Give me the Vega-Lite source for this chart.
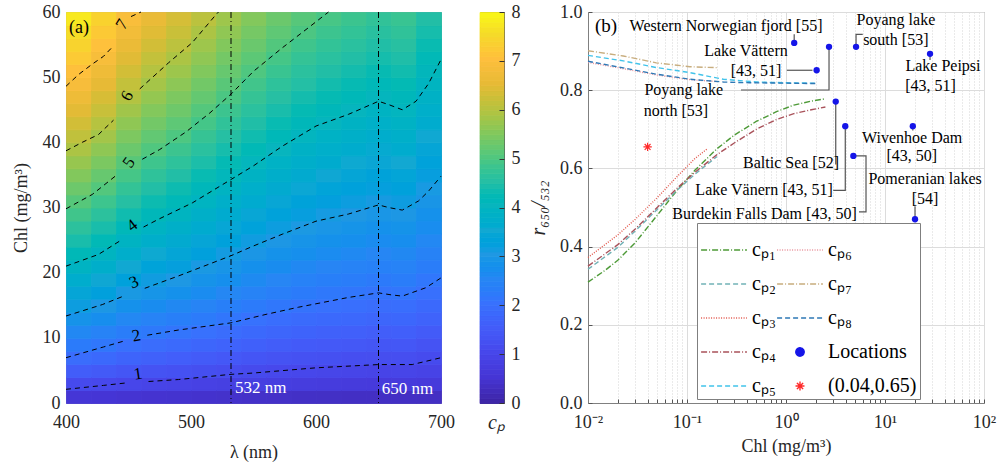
{
"$schema":"https://vega.github.io/schema/vega-lite/v6.json",
"padding":{"left":11,"top":2,"right":0,"bottom":0},
"background":"white",
"spacing":7,
"config":{"font":"Liberation Serif","view":{"stroke":null},"axis":{"labelFont":"Liberation Serif","titleFont":"Liberation Serif","labelFontSize":18,"titleFontSize":18,"titleFontWeight":"normal","labelColor":"#262626","titleColor":"#262626"}},
"resolve":{"scale":{"color":"independent","stroke":"independent","strokeDash":"independent","x":"independent","y":"independent"},"legend":{"color":"independent","strokeDash":"independent"}},
"datasets":{
"heat":[
{"l":400,"c":0,"v":0.52},{"l":400,"c":2,"v":1.08},{"l":400,"c":4,"v":1.52},{"l":400,"c":6,"v":1.89},{"l":400,"c":8,"v":2.23},{"l":400,"c":10,"v":2.55},{"l":400,"c":12,"v":2.85},{"l":400,"c":14,"v":3.13},{"l":400,"c":16,"v":3.4},{"l":400,"c":18,"v":3.66},{"l":400,"c":20,"v":3.91},{"l":400,"c":22,"v":4.15},{"l":400,"c":24,"v":4.39},{"l":400,"c":26,"v":4.61},{"l":400,"c":28,"v":4.84},{"l":400,"c":30,"v":5.05},{"l":400,"c":32,"v":5.27},{"l":400,"c":34,"v":5.48},{"l":400,"c":36,"v":5.68},{"l":400,"c":38,"v":5.88},{"l":400,"c":40,"v":6.08},{"l":400,"c":42,"v":6.27},{"l":400,"c":44,"v":6.46},{"l":400,"c":46,"v":6.65},{"l":400,"c":48,"v":6.84},{"l":400,"c":50,"v":7.02},{"l":400,"c":52,"v":7.2},{"l":400,"c":54,"v":7.38},{"l":400,"c":56,"v":7.55},{"l":400,"c":58,"v":7.73},
{"l":420,"c":0,"v":0.5},{"l":420,"c":2,"v":1.03},{"l":420,"c":4,"v":1.44},{"l":420,"c":6,"v":1.8},{"l":420,"c":8,"v":2.13},{"l":420,"c":10,"v":2.43},{"l":420,"c":12,"v":2.71},{"l":420,"c":14,"v":2.98},{"l":420,"c":16,"v":3.24},{"l":420,"c":18,"v":3.48},{"l":420,"c":20,"v":3.72},{"l":420,"c":22,"v":3.95},{"l":420,"c":24,"v":4.18},{"l":420,"c":26,"v":4.39},{"l":420,"c":28,"v":4.61},{"l":420,"c":30,"v":4.81},{"l":420,"c":32,"v":5.02},{"l":420,"c":34,"v":5.21},{"l":420,"c":36,"v":5.41},{"l":420,"c":38,"v":5.6},{"l":420,"c":40,"v":5.79},{"l":420,"c":42,"v":5.97},{"l":420,"c":44,"v":6.16},{"l":420,"c":46,"v":6.33},{"l":420,"c":48,"v":6.51},{"l":420,"c":50,"v":6.68},{"l":420,"c":52,"v":6.86},{"l":420,"c":54,"v":7.03},{"l":420,"c":56,"v":7.19},{"l":420,"c":58,"v":7.36},
{"l":440,"c":0,"v":0.47},{"l":440,"c":2,"v":0.97},{"l":440,"c":4,"v":1.35},{"l":440,"c":6,"v":1.69},{"l":440,"c":8,"v":2.0},{"l":440,"c":10,"v":2.28},{"l":440,"c":12,"v":2.54},{"l":440,"c":14,"v":2.8},{"l":440,"c":16,"v":3.04},{"l":440,"c":18,"v":3.27},{"l":440,"c":20,"v":3.49},{"l":440,"c":22,"v":3.71},{"l":440,"c":24,"v":3.92},{"l":440,"c":26,"v":4.12},{"l":440,"c":28,"v":4.32},{"l":440,"c":30,"v":4.51},{"l":440,"c":32,"v":4.7},{"l":440,"c":34,"v":4.89},{"l":440,"c":36,"v":5.07},{"l":440,"c":38,"v":5.25},{"l":440,"c":40,"v":5.43},{"l":440,"c":42,"v":5.6},{"l":440,"c":44,"v":5.77},{"l":440,"c":46,"v":5.94},{"l":440,"c":48,"v":6.11},{"l":440,"c":50,"v":6.27},{"l":440,"c":52,"v":6.43},{"l":440,"c":54,"v":6.59},{"l":440,"c":56,"v":6.75},{"l":440,"c":58,"v":6.9},
{"l":460,"c":0,"v":0.45},{"l":460,"c":2,"v":0.92},{"l":460,"c":4,"v":1.29},{"l":460,"c":6,"v":1.61},{"l":460,"c":8,"v":1.9},{"l":460,"c":10,"v":2.17},{"l":460,"c":12,"v":2.42},{"l":460,"c":14,"v":2.66},{"l":460,"c":16,"v":2.89},{"l":460,"c":18,"v":3.11},{"l":460,"c":20,"v":3.32},{"l":460,"c":22,"v":3.52},{"l":460,"c":24,"v":3.72},{"l":460,"c":26,"v":3.92},{"l":460,"c":28,"v":4.11},{"l":460,"c":30,"v":4.29},{"l":460,"c":32,"v":4.47},{"l":460,"c":34,"v":4.65},{"l":460,"c":36,"v":4.82},{"l":460,"c":38,"v":4.99},{"l":460,"c":40,"v":5.16},{"l":460,"c":42,"v":5.33},{"l":460,"c":44,"v":5.49},{"l":460,"c":46,"v":5.65},{"l":460,"c":48,"v":5.81},{"l":460,"c":50,"v":5.96},{"l":460,"c":52,"v":6.11},{"l":460,"c":54,"v":6.27},{"l":460,"c":56,"v":6.42},{"l":460,"c":58,"v":6.56},
{"l":480,"c":0,"v":0.43},{"l":480,"c":2,"v":0.88},{"l":480,"c":4,"v":1.24},{"l":480,"c":6,"v":1.55},{"l":480,"c":8,"v":1.82},{"l":480,"c":10,"v":2.08},{"l":480,"c":12,"v":2.33},{"l":480,"c":14,"v":2.56},{"l":480,"c":16,"v":2.78},{"l":480,"c":18,"v":2.99},{"l":480,"c":20,"v":3.19},{"l":480,"c":22,"v":3.39},{"l":480,"c":24,"v":3.58},{"l":480,"c":26,"v":3.77},{"l":480,"c":28,"v":3.95},{"l":480,"c":30,"v":4.13},{"l":480,"c":32,"v":4.3},{"l":480,"c":34,"v":4.47},{"l":480,"c":36,"v":4.64},{"l":480,"c":38,"v":4.8},{"l":480,"c":40,"v":4.96},{"l":480,"c":42,"v":5.12},{"l":480,"c":44,"v":5.28},{"l":480,"c":46,"v":5.43},{"l":480,"c":48,"v":5.58},{"l":480,"c":50,"v":5.73},{"l":480,"c":52,"v":5.88},{"l":480,"c":54,"v":6.03},{"l":480,"c":56,"v":6.17},{"l":480,"c":58,"v":6.31},
{"l":500,"c":0,"v":0.41},{"l":500,"c":2,"v":0.84},{"l":500,"c":4,"v":1.18},{"l":500,"c":6,"v":1.47},{"l":500,"c":8,"v":1.74},{"l":500,"c":10,"v":1.99},{"l":500,"c":12,"v":2.22},{"l":500,"c":14,"v":2.44},{"l":500,"c":16,"v":2.65},{"l":500,"c":18,"v":2.85},{"l":500,"c":20,"v":3.04},{"l":500,"c":22,"v":3.23},{"l":500,"c":24,"v":3.41},{"l":500,"c":26,"v":3.59},{"l":500,"c":28,"v":3.77},{"l":500,"c":30,"v":3.94},{"l":500,"c":32,"v":4.1},{"l":500,"c":34,"v":4.26},{"l":500,"c":36,"v":4.42},{"l":500,"c":38,"v":4.58},{"l":500,"c":40,"v":4.73},{"l":500,"c":42,"v":4.88},{"l":500,"c":44,"v":5.03},{"l":500,"c":46,"v":5.18},{"l":500,"c":48,"v":5.32},{"l":500,"c":50,"v":5.47},{"l":500,"c":52,"v":5.61},{"l":500,"c":54,"v":5.74},{"l":500,"c":56,"v":5.88},{"l":500,"c":58,"v":6.02},
{"l":520,"c":0,"v":0.39},{"l":520,"c":2,"v":0.8},{"l":520,"c":4,"v":1.13},{"l":520,"c":6,"v":1.41},{"l":520,"c":8,"v":1.66},{"l":520,"c":10,"v":1.89},{"l":520,"c":12,"v":2.11},{"l":520,"c":14,"v":2.32},{"l":520,"c":16,"v":2.52},{"l":520,"c":18,"v":2.72},{"l":520,"c":20,"v":2.9},{"l":520,"c":22,"v":3.08},{"l":520,"c":24,"v":3.26},{"l":520,"c":26,"v":3.42},{"l":520,"c":28,"v":3.59},{"l":520,"c":30,"v":3.75},{"l":520,"c":32,"v":3.91},{"l":520,"c":34,"v":4.07},{"l":520,"c":36,"v":4.22},{"l":520,"c":38,"v":4.37},{"l":520,"c":40,"v":4.51},{"l":520,"c":42,"v":4.66},{"l":520,"c":44,"v":4.8},{"l":520,"c":46,"v":4.94},{"l":520,"c":48,"v":5.08},{"l":520,"c":50,"v":5.21},{"l":520,"c":52,"v":5.34},{"l":520,"c":54,"v":5.48},{"l":520,"c":56,"v":5.61},{"l":520,"c":58,"v":5.74},
{"l":540,"c":0,"v":0.37},{"l":540,"c":2,"v":0.77},{"l":540,"c":4,"v":1.08},{"l":540,"c":6,"v":1.34},{"l":540,"c":8,"v":1.59},{"l":540,"c":10,"v":1.81},{"l":540,"c":12,"v":2.02},{"l":540,"c":14,"v":2.22},{"l":540,"c":16,"v":2.41},{"l":540,"c":18,"v":2.6},{"l":540,"c":20,"v":2.77},{"l":540,"c":22,"v":2.95},{"l":540,"c":24,"v":3.11},{"l":540,"c":26,"v":3.28},{"l":540,"c":28,"v":3.43},{"l":540,"c":30,"v":3.59},{"l":540,"c":32,"v":3.74},{"l":540,"c":34,"v":3.89},{"l":540,"c":36,"v":4.03},{"l":540,"c":38,"v":4.18},{"l":540,"c":40,"v":4.32},{"l":540,"c":42,"v":4.45},{"l":540,"c":44,"v":4.59},{"l":540,"c":46,"v":4.72},{"l":540,"c":48,"v":4.85},{"l":540,"c":50,"v":4.98},{"l":540,"c":52,"v":5.11},{"l":540,"c":54,"v":5.24},{"l":540,"c":56,"v":5.36},{"l":540,"c":58,"v":5.49},
{"l":560,"c":0,"v":0.36},{"l":560,"c":2,"v":0.74},{"l":560,"c":4,"v":1.03},{"l":560,"c":6,"v":1.29},{"l":560,"c":8,"v":1.52},{"l":560,"c":10,"v":1.73},{"l":560,"c":12,"v":1.93},{"l":560,"c":14,"v":2.13},{"l":560,"c":16,"v":2.31},{"l":560,"c":18,"v":2.49},{"l":560,"c":20,"v":2.66},{"l":560,"c":22,"v":2.82},{"l":560,"c":24,"v":2.98},{"l":560,"c":26,"v":3.13},{"l":560,"c":28,"v":3.29},{"l":560,"c":30,"v":3.43},{"l":560,"c":32,"v":3.58},{"l":560,"c":34,"v":3.72},{"l":560,"c":36,"v":3.86},{"l":560,"c":38,"v":4.0},{"l":560,"c":40,"v":4.13},{"l":560,"c":42,"v":4.26},{"l":560,"c":44,"v":4.39},{"l":560,"c":46,"v":4.52},{"l":560,"c":48,"v":4.64},{"l":560,"c":50,"v":4.77},{"l":560,"c":52,"v":4.89},{"l":560,"c":54,"v":5.01},{"l":560,"c":56,"v":5.13},{"l":560,"c":58,"v":5.25},
{"l":580,"c":0,"v":0.34},{"l":580,"c":2,"v":0.71},{"l":580,"c":4,"v":0.99},{"l":580,"c":6,"v":1.24},{"l":580,"c":8,"v":1.46},{"l":580,"c":10,"v":1.67},{"l":580,"c":12,"v":1.86},{"l":580,"c":14,"v":2.05},{"l":580,"c":16,"v":2.23},{"l":580,"c":18,"v":2.39},{"l":580,"c":20,"v":2.56},{"l":580,"c":22,"v":2.72},{"l":580,"c":24,"v":2.87},{"l":580,"c":26,"v":3.02},{"l":580,"c":28,"v":3.17},{"l":580,"c":30,"v":3.31},{"l":580,"c":32,"v":3.45},{"l":580,"c":34,"v":3.58},{"l":580,"c":36,"v":3.72},{"l":580,"c":38,"v":3.85},{"l":580,"c":40,"v":3.98},{"l":580,"c":42,"v":4.11},{"l":580,"c":44,"v":4.23},{"l":580,"c":46,"v":4.35},{"l":580,"c":48,"v":4.48},{"l":580,"c":50,"v":4.59},{"l":580,"c":52,"v":4.71},{"l":580,"c":54,"v":4.83},{"l":580,"c":56,"v":4.95},{"l":580,"c":58,"v":5.06},
{"l":600,"c":0,"v":0.33},{"l":600,"c":2,"v":0.69},{"l":600,"c":4,"v":0.96},{"l":600,"c":6,"v":1.2},{"l":600,"c":8,"v":1.42},{"l":600,"c":10,"v":1.62},{"l":600,"c":12,"v":1.81},{"l":600,"c":14,"v":1.99},{"l":600,"c":16,"v":2.16},{"l":600,"c":18,"v":2.33},{"l":600,"c":20,"v":2.48},{"l":600,"c":22,"v":2.64},{"l":600,"c":24,"v":2.79},{"l":600,"c":26,"v":2.93},{"l":600,"c":28,"v":3.07},{"l":600,"c":30,"v":3.21},{"l":600,"c":32,"v":3.35},{"l":600,"c":34,"v":3.48},{"l":600,"c":36,"v":3.61},{"l":600,"c":38,"v":3.74},{"l":600,"c":40,"v":3.86},{"l":600,"c":42,"v":3.99},{"l":600,"c":44,"v":4.11},{"l":600,"c":46,"v":4.23},{"l":600,"c":48,"v":4.34},{"l":600,"c":50,"v":4.46},{"l":600,"c":52,"v":4.58},{"l":600,"c":54,"v":4.69},{"l":600,"c":56,"v":4.8},{"l":600,"c":58,"v":4.91},
{"l":620,"c":0,"v":0.32},{"l":620,"c":2,"v":0.67},{"l":620,"c":4,"v":0.94},{"l":620,"c":6,"v":1.17},{"l":620,"c":8,"v":1.39},{"l":620,"c":10,"v":1.58},{"l":620,"c":12,"v":1.77},{"l":620,"c":14,"v":1.94},{"l":620,"c":16,"v":2.11},{"l":620,"c":18,"v":2.27},{"l":620,"c":20,"v":2.42},{"l":620,"c":22,"v":2.57},{"l":620,"c":24,"v":2.72},{"l":620,"c":26,"v":2.86},{"l":620,"c":28,"v":3.0},{"l":620,"c":30,"v":3.13},{"l":620,"c":32,"v":3.27},{"l":620,"c":34,"v":3.4},{"l":620,"c":36,"v":3.52},{"l":620,"c":38,"v":3.65},{"l":620,"c":40,"v":3.77},{"l":620,"c":42,"v":3.89},{"l":620,"c":44,"v":4.01},{"l":620,"c":46,"v":4.13},{"l":620,"c":48,"v":4.24},{"l":620,"c":50,"v":4.35},{"l":620,"c":52,"v":4.47},{"l":620,"c":54,"v":4.58},{"l":620,"c":56,"v":4.69},{"l":620,"c":58,"v":4.79},
{"l":640,"c":0,"v":0.32},{"l":640,"c":2,"v":0.65},{"l":640,"c":4,"v":0.92},{"l":640,"c":6,"v":1.15},{"l":640,"c":8,"v":1.35},{"l":640,"c":10,"v":1.54},{"l":640,"c":12,"v":1.72},{"l":640,"c":14,"v":1.89},{"l":640,"c":16,"v":2.06},{"l":640,"c":18,"v":2.21},{"l":640,"c":20,"v":2.36},{"l":640,"c":22,"v":2.51},{"l":640,"c":24,"v":2.65},{"l":640,"c":26,"v":2.79},{"l":640,"c":28,"v":2.93},{"l":640,"c":30,"v":3.06},{"l":640,"c":32,"v":3.19},{"l":640,"c":34,"v":3.31},{"l":640,"c":36,"v":3.44},{"l":640,"c":38,"v":3.56},{"l":640,"c":40,"v":3.68},{"l":640,"c":42,"v":3.79},{"l":640,"c":44,"v":3.91},{"l":640,"c":46,"v":4.02},{"l":640,"c":48,"v":4.14},{"l":640,"c":50,"v":4.25},{"l":640,"c":52,"v":4.36},{"l":640,"c":54,"v":4.46},{"l":640,"c":56,"v":4.57},{"l":640,"c":58,"v":4.68},
{"l":660,"c":0,"v":0.32},{"l":660,"c":2,"v":0.67},{"l":660,"c":4,"v":0.93},{"l":660,"c":6,"v":1.17},{"l":660,"c":8,"v":1.38},{"l":660,"c":10,"v":1.57},{"l":660,"c":12,"v":1.76},{"l":660,"c":14,"v":1.93},{"l":660,"c":16,"v":2.1},{"l":660,"c":18,"v":2.26},{"l":660,"c":20,"v":2.41},{"l":660,"c":22,"v":2.56},{"l":660,"c":24,"v":2.7},{"l":660,"c":26,"v":2.84},{"l":660,"c":28,"v":2.98},{"l":660,"c":30,"v":3.12},{"l":660,"c":32,"v":3.25},{"l":660,"c":34,"v":3.38},{"l":660,"c":36,"v":3.5},{"l":660,"c":38,"v":3.63},{"l":660,"c":40,"v":3.75},{"l":660,"c":42,"v":3.87},{"l":660,"c":44,"v":3.98},{"l":660,"c":46,"v":4.1},{"l":660,"c":48,"v":4.21},{"l":660,"c":50,"v":4.33},{"l":660,"c":52,"v":4.44},{"l":660,"c":54,"v":4.55},{"l":660,"c":56,"v":4.66},{"l":660,"c":58,"v":4.76},
{"l":680,"c":0,"v":0.3},{"l":680,"c":2,"v":0.63},{"l":680,"c":4,"v":0.88},{"l":680,"c":6,"v":1.09},{"l":680,"c":8,"v":1.29},{"l":680,"c":10,"v":1.48},{"l":680,"c":12,"v":1.65},{"l":680,"c":14,"v":1.81},{"l":680,"c":16,"v":1.97},{"l":680,"c":18,"v":2.12},{"l":680,"c":20,"v":2.26},{"l":680,"c":22,"v":2.4},{"l":680,"c":24,"v":2.54},{"l":680,"c":26,"v":2.67},{"l":680,"c":28,"v":2.8},{"l":680,"c":30,"v":2.92},{"l":680,"c":32,"v":3.05},{"l":680,"c":34,"v":3.17},{"l":680,"c":36,"v":3.28},{"l":680,"c":38,"v":3.4},{"l":680,"c":40,"v":3.51},{"l":680,"c":42,"v":3.63},{"l":680,"c":44,"v":3.74},{"l":680,"c":46,"v":3.85},{"l":680,"c":48,"v":3.95},{"l":680,"c":50,"v":4.06},{"l":680,"c":52,"v":4.16},{"l":680,"c":54,"v":4.27},{"l":680,"c":56,"v":4.37},{"l":680,"c":58,"v":4.47}
],
"cbar":[{"b":0},{"b":0.1},{"b":0.2},{"b":0.3},{"b":0.4},{"b":0.5},{"b":0.6},{"b":0.7},{"b":0.8},{"b":0.9},{"b":1},{"b":1.1},{"b":1.2},{"b":1.3},{"b":1.4},{"b":1.5},{"b":1.6},{"b":1.7},{"b":1.8},{"b":1.9},{"b":2},{"b":2.1},{"b":2.2},{"b":2.3},{"b":2.4},{"b":2.5},{"b":2.6},{"b":2.7},{"b":2.8},{"b":2.9},{"b":3},{"b":3.1},{"b":3.2},{"b":3.3},{"b":3.4},{"b":3.5},{"b":3.6},{"b":3.7},{"b":3.8},{"b":3.9},{"b":4},{"b":4.1},{"b":4.2},{"b":4.3},{"b":4.4},{"b":4.5},{"b":4.6},{"b":4.7},{"b":4.8},{"b":4.9},{"b":5},{"b":5.1},{"b":5.2},{"b":5.3},{"b":5.4},{"b":5.5},{"b":5.6},{"b":5.7},{"b":5.8},{"b":5.9},{"b":6},{"b":6.1},{"b":6.2},{"b":6.3},{"b":6.4},{"b":6.5},{"b":6.6},{"b":6.7},{"b":6.8},{"b":6.9},{"b":7},{"b":7.1},{"b":7.2},{"b":7.3},{"b":7.4},{"b":7.5},{"b":7.6},{"b":7.7},{"b":7.8},{"b":7.9}],
"contours":[
{"g":"7a","l":400,"c":48.6},{"g":"7a","l":410,"c":50.4},{"g":"7a","l":421,"c":52.0},{"g":"7a","l":430,"c":53.2},{"g":"7a","l":437,"c":54.6},
{"g":"7b","l":452,"c":59.3},{"g":"7b","l":460,"c":60},
{"g":"6a","l":400,"c":38.7},{"g":"6a","l":413,"c":40.0},{"g":"6a","l":426,"c":41.2},{"g":"6a","l":438,"c":43.4},
{"g":"6b","l":459,"c":48.2},{"g":"6b","l":482,"c":52.2},{"g":"6b","l":501,"c":55.3},{"g":"6b","l":520,"c":59.6},{"g":"6b","l":522,"c":60},
{"g":"5a","l":400,"c":29.8},{"g":"5a","l":421,"c":32.0},{"g":"5a","l":440,"c":34.9},
{"g":"5b","l":461,"c":37.4},{"g":"5b","l":475,"c":38.9},{"g":"5b","l":496,"c":41.6},{"g":"5b","l":515,"c":44.5},{"g":"5b","l":532,"c":47.4},{"g":"5b","l":550,"c":50.9},{"g":"5b","l":573,"c":54.5},{"g":"5b","l":594,"c":57.6},{"g":"5b","l":610,"c":60},
{"g":"4a","l":400,"c":21.0},{"g":"4a","l":426,"c":22.8},{"g":"4a","l":445,"c":25.1},
{"g":"4b","l":462,"c":27.0},{"g":"4b","l":474,"c":28.2},{"g":"4b","l":501,"c":30.7},{"g":"4b","l":532,"c":34.3},{"g":"4b","l":550,"c":36.4},{"g":"4b","l":573,"c":39.4},{"g":"4b","l":600,"c":42.5},{"g":"4b","l":626,"c":44.3},{"g":"4b","l":650,"c":46.3},{"g":"4b","l":658,"c":45.8},{"g":"4b","l":669,"c":45.0},{"g":"4b","l":680,"c":46.3},{"g":"4b","l":690,"c":49.0},{"g":"4b","l":700,"c":52.7},
{"g":"3a","l":400,"c":13.35},{"g":"3a","l":429,"c":15.1},{"g":"3a","l":446,"c":16.4},
{"g":"3b","l":463,"c":17.6},{"g":"3b","l":490,"c":19.5},{"g":"3b","l":532,"c":22.6},{"g":"3b","l":550,"c":24.1},{"g":"3b","l":573,"c":25.9},{"g":"3b","l":600,"c":27.9},{"g":"3b","l":626,"c":29.0},{"g":"3b","l":650,"c":30.4},{"g":"3b","l":658,"c":30.0},{"g":"3b","l":669,"c":29.6},{"g":"3b","l":682,"c":31.0},{"g":"3b","l":690,"c":32.5},{"g":"3b","l":700,"c":34.8},
{"g":"2a","l":400,"c":6.95},{"g":"2a","l":430,"c":8.6},{"g":"2a","l":448,"c":9.6},
{"g":"2b","l":465,"c":10.4},{"g":"2b","l":490,"c":11.2},{"g":"2b","l":532,"c":12.3},{"g":"2b","l":560,"c":13.6},{"g":"2b","l":586,"c":14.7},{"g":"2b","l":626,"c":16.2},{"g":"2b","l":650,"c":16.9},{"g":"2b","l":660,"c":16.6},{"g":"2b","l":669,"c":16.4},{"g":"2b","l":688,"c":17.7},{"g":"2b","l":700,"c":19.2},
{"g":"1a","l":400,"c":2.1},{"g":"1a","l":430,"c":2.7},{"g":"1a","l":449,"c":3.1},
{"g":"1b","l":466,"c":3.3},{"g":"1b","l":490,"c":3.6},{"g":"1b","l":532,"c":4.4},{"g":"1b","l":550,"c":4.6},{"g":"1b","l":600,"c":5.4},{"g":"1b","l":650,"c":5.9},{"g":"1b","l":677,"c":5.9},{"g":"1b","l":700,"c":6.95}
],
"clabels":[{"k":7,"l":445,"c":58.1},{"k":6,"l":449,"c":47.1},{"k":5,"l":450.4,"c":36.9},{"k":4,"l":453,"c":27.2},{"k":3,"l":454.4,"c":18.5},{"k":2,"l":456.3,"c":10.3},{"k":1,"l":457.6,"c":4.4}],
"vlines":[{"l":532},{"l":650}],
"nm":[{"l":535.2,"c":2.35,"t":"532 nm"},{"l":652.6,"c":2.1,"t":"650 nm"}],
"curves":[
{"s":"cₚ₁","x":0.01,"y":0.309},{"s":"cₚ₁","x":0.015,"y":0.34},{"s":"cₚ₁","x":0.02,"y":0.365},{"s":"cₚ₁","x":0.03,"y":0.41},{"s":"cₚ₁","x":0.05,"y":0.48},{"s":"cₚ₁","x":0.08,"y":0.545},{"s":"cₚ₁","x":0.12,"y":0.595},{"s":"cₚ₁","x":0.2,"y":0.65},{"s":"cₚ₁","x":0.3,"y":0.685},{"s":"cₚ₁","x":0.5,"y":0.72},{"s":"cₚ₁","x":0.8,"y":0.745},{"s":"cₚ₁","x":1.2,"y":0.762},{"s":"cₚ₁","x":1.8,"y":0.772},{"s":"cₚ₁","x":2.5,"y":0.778},
{"s":"cₚ₂","x":0.01,"y":0.342},{"s":"cₚ₂","x":0.02,"y":0.398},{"s":"cₚ₂","x":0.03,"y":0.44},{"s":"cₚ₂","x":0.05,"y":0.495},{"s":"cₚ₂","x":0.08,"y":0.545},{"s":"cₚ₂","x":0.12,"y":0.585},{"s":"cₚ₂","x":0.2,"y":0.63},
{"s":"cₚ₃","x":0.01,"y":0.372},{"s":"cₚ₃","x":0.02,"y":0.43},{"s":"cₚ₃","x":0.03,"y":0.47},{"s":"cₚ₃","x":0.05,"y":0.525},{"s":"cₚ₃","x":0.08,"y":0.58},{"s":"cₚ₃","x":0.12,"y":0.625},{"s":"cₚ₃","x":0.16,"y":0.65},
{"s":"cₚ₄","x":0.01,"y":0.35},{"s":"cₚ₄","x":0.02,"y":0.405},{"s":"cₚ₄","x":0.03,"y":0.445},{"s":"cₚ₄","x":0.05,"y":0.5},{"s":"cₚ₄","x":0.08,"y":0.55},{"s":"cₚ₄","x":0.12,"y":0.59},{"s":"cₚ₄","x":0.2,"y":0.635},{"s":"cₚ₄","x":0.3,"y":0.665},{"s":"cₚ₄","x":0.5,"y":0.7},{"s":"cₚ₄","x":0.8,"y":0.725},{"s":"cₚ₄","x":1.2,"y":0.74},{"s":"cₚ₄","x":1.8,"y":0.75},{"s":"cₚ₄","x":2.5,"y":0.757},
{"s":"cₚ₅","x":0.01,"y":0.889},{"s":"cₚ₅","x":0.0227,"y":0.875},{"s":"cₚ₅","x":0.049,"y":0.858},{"s":"cₚ₅","x":0.107,"y":0.845},{"s":"cₚ₅","x":0.233,"y":0.828},{"s":"cₚ₅","x":0.5,"y":0.821},{"s":"cₚ₅","x":1,"y":0.819},{"s":"cₚ₅","x":2,"y":0.818},
{"s":"cₚ₆","x":0.01,"y":0.871},{"s":"cₚ₆","x":0.0227,"y":0.855},{"s":"cₚ₆","x":0.049,"y":0.839},{"s":"cₚ₆","x":0.107,"y":0.827},{"s":"cₚ₆","x":0.2,"y":0.822},
{"s":"cₚ₇","x":0.01,"y":0.901},{"s":"cₚ₇","x":0.0227,"y":0.8875},{"s":"cₚ₇","x":0.049,"y":0.87},{"s":"cₚ₇","x":0.107,"y":0.86},{"s":"cₚ₇","x":0.2,"y":0.8576},
{"s":"cₚ₈","x":0.01,"y":0.874},{"s":"cₚ₈","x":0.0227,"y":0.857},{"s":"cₚ₈","x":0.049,"y":0.841},{"s":"cₚ₈","x":0.107,"y":0.828},{"s":"cₚ₈","x":0.233,"y":0.821},{"s":"cₚ₈","x":0.43,"y":0.819},{"s":"cₚ₈","x":1,"y":0.818},{"s":"cₚ₈","x":2,"y":0.817}
],
"locs":[{"s":"Locations","x":1.21,"y":0.921},{"s":"Locations","x":2.04,"y":0.851},{"s":"Locations","x":2.72,"y":0.911},{"s":"Locations","x":5.1,"y":0.911},{"s":"Locations","x":28.5,"y":0.893},{"s":"Locations","x":3.18,"y":0.771},{"s":"Locations","x":3.97,"y":0.708},{"s":"Locations","x":4.79,"y":0.632},{"s":"Locations","x":19.1,"y":0.708},{"s":"Locations","x":20.1,"y":0.47}],
"star":[{"s":"(0.04,0.65)","x":0.04,"y":0.655}],
"leaders":[
{"id":"wnf","o":1,"x":1.21,"y":0.921},{"id":"wnf","o":2,"x":1.21,"y":0.943},
{"id":"vat","o":1,"x":1.02,"y":0.851},{"id":"vat","o":2,"x":1.85,"y":0.851},
{"id":"pyn","o":1,"x":0.351,"y":0.8005},{"id":"pyn","o":2,"x":2.72,"y":0.8005},{"id":"pyn","o":3,"x":2.72,"y":0.911},
{"id":"pys","o":1,"x":5.1,"y":0.911},{"id":"pys","o":2,"x":5.1,"y":0.943},{"id":"pys","o":3,"x":5.96,"y":0.943},
{"id":"pei","o":1,"x":28.5,"y":0.893},{"id":"pei","o":2,"x":28.5,"y":0.877},
{"id":"bal","o":1,"x":3.18,"y":0.771},{"id":"bal","o":2,"x":3.18,"y":0.61},
{"id":"van","o":1,"x":3.97,"y":0.708},{"id":"van","o":2,"x":3.97,"y":0.544},{"id":"van","o":3,"x":3.0,"y":0.544},
{"id":"bur","o":1,"x":4.79,"y":0.632},{"id":"bur","o":2,"x":6.43,"y":0.632},{"id":"bur","o":3,"x":6.43,"y":0.489},{"id":"bur","o":4,"x":5.46,"y":0.489},
{"id":"wiv","o":1,"x":19.1,"y":0.708},{"id":"wiv","o":2,"x":19.1,"y":0.697},
{"id":"pom","o":1,"x":20.1,"y":0.47},{"id":"pom","o":2,"x":20.1,"y":0.503}
],
"annc":[
{"x":0.248,"y":0.964,"t":"Western Norwegian fjord [55]"},
{"x":0.394,"y":0.9,"t":"Lake Vättern"},
{"x":0.498,"y":0.849,"t":"[43, 51]"},
{"x":0.0927,"y":0.8,"t":"Poyang lake"},
{"x":0.0774,"y":0.747,"t":"north [53]"},
{"x":12.9,"y":0.979,"t":"Poyang lake"},
{"x":12.85,"y":0.9276,"t":"south [53]"},
{"x":38.5,"y":0.862,"t":"Lake Peipsi"},
{"x":28.8,"y":0.811,"t":"[43, 51]"},
{"x":18.8,"y":0.6785,"t":"Wivenhoe Dam"},
{"x":18.65,"y":0.632,"t":"[43, 50]"},
{"x":25.4,"y":0.572,"t":"Pomeranian lakes"},
{"x":25.4,"y":0.521,"t":"[54]"}
],
"annr":[
{"x":3.43,"y":0.6146,"t":"Baltic Sea  [52]"},
{"x":2.97,"y":0.544,"t":"Lake Vänern  [43, 51]"},
{"x":5.18,"y":0.483,"t":"Burdekin Falls Dam  [43, 50]"}
],
"blabel":[{"x":0.01177,"y":0.964,"t":"(b)"}],
"alabel":[{"l":402.4,"c":57.5,"t":"(a)"}]
},
"hconcat":[
{
"spacing":24,
"resolve":{"scale":{"color":"independent","stroke":"independent","x":"independent","y":"independent"}},
"hconcat":[
{
"width":375,"height":391,
"view":{"stroke":"#a0a0a0"},
"layer":[
{"data":{"name":"heat"},"mark":{"type":"rect","binSpacing":0,"strokeWidth":0.8},
"encoding":{
"x":{"field":"l","type":"quantitative","bin":{"binned":true,"step":20},"scale":{"domain":[400,700],"nice":false,"zero":false},"axis":{"values":[400,500,600,700],"format":"d","title":"λ (nm)","ticks":false,"domain":false,"grid":false,"labelFlush":false,"labelPadding":10,"titlePadding":12}},
"y":{"field":"c","type":"quantitative","bin":{"binned":true,"step":2},"scale":{"domain":[0,60],"nice":false,"zero":false},"axis":{"values":[0,10,20,30,40,50,60],"format":"d","title":"Chl (mg/m³)","ticks":false,"domain":false,"grid":false,"labelFlush":false,"labelPadding":6,"titlePadding":12}},
"color":{"field":"v","type":"quantitative","scale":{"domain":[0,8],"range":["#3e26a8","#4535d5","#4747eb","#435cf9","#3871fd","#2786f4","#1f98e3","#12a8d2","#07b5be","#26bfa4","#51c77e","#84c85b","#b9c23f","#e7ba36","#febf3d","#f5da29","#f9fb14"]},"legend":null},
"stroke":{"field":"v","type":"quantitative","scale":{"domain":[0,8],"range":["#3e26a8","#4535d5","#4747eb","#435cf9","#3871fd","#2786f4","#1f98e3","#12a8d2","#07b5be","#26bfa4","#51c77e","#84c85b","#b9c23f","#e7ba36","#febf3d","#f5da29","#f9fb14"]},"legend":null}
}},
{"data":{"name":"vlines"},"mark":{"type":"rule","color":"black","strokeWidth":1,"strokeDash":[6,3,1,3]},
"encoding":{"x":{"field":"l","type":"quantitative"}}},
{"data":{"name":"contours"},"mark":{"type":"line","color":"black","strokeWidth":1,"strokeDash":[5,4]},
"encoding":{"x":{"field":"l","type":"quantitative"},"y":{"field":"c","type":"quantitative"},"detail":{"field":"g"}}},
{"data":{"name":"clabels"},"mark":{"type":"text","fontSize":17,"color":"black","baseline":"middle","align":"center"},
"encoding":{"x":{"field":"l","type":"quantitative"},"y":{"field":"c","type":"quantitative"},"text":{"field":"k","type":"nominal"},
"angle":{"field":"k","type":"quantitative","scale":{"domain":[1,2,3,4,5,6,7],"range":[-8,-12,-22,-38,-55,-60,-58]},"legend":null}}},
{"data":{"name":"nm"},"mark":{"type":"text","fontSize":17,"color":"white","align":"left","baseline":"middle","clip":true},
"encoding":{"x":{"field":"l","type":"quantitative"},"y":{"field":"c","type":"quantitative"},"text":{"field":"t"}}},
{"data":{"name":"alabel"},"mark":{"type":"text","fontSize":18,"color":"black","align":"left","baseline":"middle"},
"encoding":{"x":{"field":"l","type":"quantitative"},"y":{"field":"c","type":"quantitative"},"text":{"field":"t"}}}
]
},
{
"width":24,"height":391,
"view":{"stroke":"#555"},
"data":{"name":"cbar"},
"mark":{"type":"rect","binSpacing":0,"strokeWidth":0.8},
"encoding":{
"y":{"field":"b","type":"quantitative","bin":{"binned":true,"step":0.1},"scale":{"domain":[0,8],"nice":false,"zero":false},
"axis":{"orient":"right","values":[0,1,2,3,4,5,6,7,8],"format":"d","tickSize":-5,"tickColor":"#333","labelPadding":12,"labelFlush":false,"domain":false,"grid":false,"title":"cₚ","titleAngle":0,"titleX":-8,"titleY":410,"titleFontStyle":"italic","titleFontSize":20,"titleAlign":"center","titleBaseline":"middle"}},
"color":{"field":"b","type":"quantitative","scale":{"domain":[0,8],"range":["#3e26a8","#4535d5","#4747eb","#435cf9","#3871fd","#2786f4","#1f98e3","#12a8d2","#07b5be","#26bfa4","#51c77e","#84c85b","#b9c23f","#e7ba36","#febf3d","#f5da29","#f9fb14"]},"legend":null},
"stroke":{"field":"b","type":"quantitative","scale":{"domain":[0,8],"range":["#3e26a8","#4535d5","#4747eb","#435cf9","#3871fd","#2786f4","#1f98e3","#12a8d2","#07b5be","#26bfa4","#51c77e","#84c85b","#b9c23f","#e7ba36","#febf3d","#f5da29","#f9fb14"]},"legend":null}
}
}
]
},
{
"width":396,"height":391,
"view":{"stroke":"#808080"},
"encoding":{
"x":{"field":"x","type":"quantitative","scale":{"type":"log","domain":[0.01,100],"nice":false},
"axis":{"values":[0.01,0.02,0.03,0.04,0.05,0.06,0.07,0.08,0.09,0.1,0.2,0.3,0.4,0.5,0.6,0.7,0.8,0.9,1,2,3,4,5,6,7,8,9,10,20,30,40,50,60,70,80,90,100],
"labelExpr":"datum.value==0.01?'10⁻²':datum.value==0.1?'10⁻¹':datum.value==1?'10⁰':datum.value==10?'10¹':datum.value==100?'10²':''",
"labelOverlap":false,"labelFlush":false,"title":"Chl (mg/m³)","tickSize":-4,"tickColor":"#555","labelPadding":14,"titlePadding":6,"domainColor":"#808080","grid":true,
"gridColor":{"condition":{"test":"indexof([0.01,0.1,1,10,100],datum.value)>=0","value":"#dcdcdc"},"value":"#d4d4d4"},
"gridDash":{"condition":{"test":"indexof([0.01,0.1,1,10,100],datum.value)>=0","value":[]},"value":[1,2]}}},
"y":{"field":"y","type":"quantitative","scale":{"domain":[0,1],"nice":false,"zero":false},
"axis":{"values":[0,0.2,0.4,0.6,0.8,1],"format":".1f","title":"r₆₅₀/₅₃₂","titleFontStyle":"italic","titleFontSize":20,"tickSize":-4,"tickColor":"#555","labelPadding":10,"titlePadding":11,"labelFlush":false,"domainColor":"#808080","grid":true,"gridColor":"#dcdcdc"}}
},
"layer":[
{"data":{"name":"curves"},"mark":{"type":"line","strokeWidth":1.4},
"encoding":{
"color":{"field":"s","type":"nominal","scale":{"domain":["cₚ₁","cₚ₂","cₚ₃","cₚ₄","cₚ₅","cₚ₆","cₚ₇","cₚ₈","Locations","(0.04,0.65)"],"range":["#4d9a37","#72b2b6","#e2574c","#a9525a","#42c3ea","#e8939c","#c8ad7e","#2e78b5","#1515e8","#ff2a2a"]},
"legend":{"title":null,"orient":"none","legendX":109,"legendY":211,"columns":2,"symbolType":"stroke","symbolSize":2100,"symbolStrokeWidth":1.4,"labelFont":"Liberation Serif","labelFontSize":20,"labelLimit":300,"strokeColor":"#7f7f7f","fillColor":"white","padding":3,"rowPadding":-4,"columnPadding":-12,"labelOffset":4,
"encode":{"symbols":{"update":{"shape":{"signal":"datum.value==='Locations'?'circle':datum.value==='(0.04,0.65)'?'M-1,0L1,0M0,-1L0,1M-0.7,-0.7L0.7,0.7M-0.7,0.7L0.7,-0.7':'stroke'"},"size":{"signal":"datum.value==='Locations'?70:datum.value==='(0.04,0.65)'?80:2100"},"fill":{"signal":"datum.value==='Locations'?'#1515e8':'transparent'"}}}}}},
"strokeDash":{"field":"s","type":"nominal","scale":{"domain":["cₚ₁","cₚ₂","cₚ₃","cₚ₄","cₚ₅","cₚ₆","cₚ₇","cₚ₈","Locations","(0.04,0.65)"],"range":[[6,2,1,2],[5,3],[1,1.5],[6,2,1,2],[5,3],[1,1.5],[6,2,1,2],[5,3],[1,0],[1,0]]},
"legend":{"title":null,"orient":"none","legendX":109,"legendY":211,"columns":2,"symbolType":"stroke","symbolSize":2100,"symbolStrokeWidth":1.4,"labelFont":"Liberation Serif","labelFontSize":20,"labelLimit":300,"strokeColor":"#7f7f7f","fillColor":"white","padding":3,"rowPadding":-4,"columnPadding":-12,"labelOffset":4,
"encode":{"symbols":{"update":{"shape":{"signal":"datum.value==='Locations'?'circle':datum.value==='(0.04,0.65)'?'M-1,0L1,0M0,-1L0,1M-0.7,-0.7L0.7,0.7M-0.7,0.7L0.7,-0.7':'stroke'"},"size":{"signal":"datum.value==='Locations'?70:datum.value==='(0.04,0.65)'?80:2100"},"fill":{"signal":"datum.value==='Locations'?'#1515e8':'transparent'"}}}}}}
}},
{"data":{"name":"leaders"},"mark":{"type":"line","color":"#555","strokeWidth":1.2},
"encoding":{"detail":{"field":"id"},"order":{"field":"o"}}},
{"data":{"name":"locs"},"mark":{"type":"point","filled":true,"shape":"circle","size":40,"opacity":1},
"encoding":{"color":{"field":"s","type":"nominal","scale":{"domain":["cₚ₁","cₚ₂","cₚ₃","cₚ₄","cₚ₅","cₚ₆","cₚ₇","cₚ₈","Locations","(0.04,0.65)"],"range":["#4d9a37","#72b2b6","#e2574c","#a9525a","#42c3ea","#e8939c","#c8ad7e","#2e78b5","#1515e8","#ff2a2a"]},
"legend":{"title":null,"orient":"none","legendX":109,"legendY":211,"columns":2,"symbolType":"stroke","symbolSize":2100,"symbolStrokeWidth":1.4,"labelFont":"Liberation Serif","labelFontSize":20,"labelLimit":300,"strokeColor":"#7f7f7f","fillColor":"white","padding":3,"rowPadding":-4,"columnPadding":-12,"labelOffset":4,
"encode":{"symbols":{"update":{"shape":{"signal":"datum.value==='Locations'?'circle':datum.value==='(0.04,0.65)'?'M-1,0L1,0M0,-1L0,1M-0.7,-0.7L0.7,0.7M-0.7,0.7L0.7,-0.7':'stroke'"},"size":{"signal":"datum.value==='Locations'?70:datum.value==='(0.04,0.65)'?80:2100"},"fill":{"signal":"datum.value==='Locations'?'#1515e8':'transparent'"}}}}}}}},
{"data":{"name":"star"},"mark":{"type":"point","filled":false,"shape":"M-1,0L1,0M0,-1L0,1M-0.7,-0.7L0.7,0.7M-0.7,0.7L0.7,-0.7","size":70,"strokeWidth":1.2,"opacity":1},
"encoding":{"color":{"field":"s","type":"nominal","scale":{"domain":["cₚ₁","cₚ₂","cₚ₃","cₚ₄","cₚ₅","cₚ₆","cₚ₇","cₚ₈","Locations","(0.04,0.65)"],"range":["#4d9a37","#72b2b6","#e2574c","#a9525a","#42c3ea","#e8939c","#c8ad7e","#2e78b5","#1515e8","#ff2a2a"]},
"legend":{"title":null,"orient":"none","legendX":109,"legendY":211,"columns":2,"symbolType":"stroke","symbolSize":2100,"symbolStrokeWidth":1.4,"labelFont":"Liberation Serif","labelFontSize":20,"labelLimit":300,"strokeColor":"#7f7f7f","fillColor":"white","padding":3,"rowPadding":-4,"columnPadding":-12,"labelOffset":4,
"encode":{"symbols":{"update":{"shape":{"signal":"datum.value==='Locations'?'circle':datum.value==='(0.04,0.65)'?'M-1,0L1,0M0,-1L0,1M-0.7,-0.7L0.7,0.7M-0.7,0.7L0.7,-0.7':'stroke'"},"size":{"signal":"datum.value==='Locations'?70:datum.value==='(0.04,0.65)'?80:2100"},"fill":{"signal":"datum.value==='Locations'?'#1515e8':'transparent'"}}}}}}}},
{"data":{"name":"annc"},"mark":{"type":"text","fontSize":16,"align":"center","baseline":"middle","color":"black"},"encoding":{"text":{"field":"t"}}},
{"data":{"name":"annr"},"mark":{"type":"text","fontSize":16,"align":"right","baseline":"middle","color":"black"},"encoding":{"text":{"field":"t"}}},
{"data":{"name":"blabel"},"mark":{"type":"text","fontSize":19,"align":"left","baseline":"middle","color":"black"},"encoding":{"text":{"field":"t"}}}
]
}
]
}
